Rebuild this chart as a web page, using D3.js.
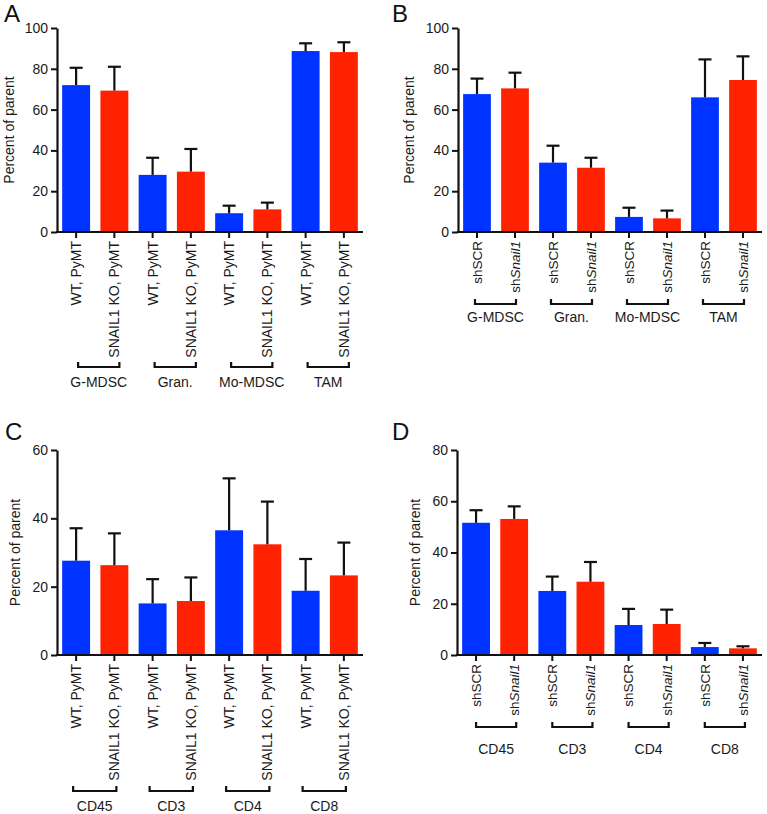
<!DOCTYPE html>
<html>
<head>
<meta charset="utf-8">
<script src="https://cdn.jsdelivr.net/npm/d3@7"></script>
<style>
  html, body { margin: 0; padding: 0; background: #fff; }
  svg { display: block; font-family: "Liberation Sans", Arial, Helvetica, sans-serif; }
</style>
</head>
<body>
<svg id="chart" width="767" height="814"></svg>
<script>
// ---------- data ----------
const groupsAB = ["G-MDSC", "Gran.", "Mo-MDSC", "TAM"];
const groupsCD = ["CD45", "CD3", "CD4", "CD8"];
const condKO = ["WT, PyMT", "SNAIL1 KO, PyMT"];
const condSh = ["shSCR", "shSnail1"];

const meanA = [72.0, 69.3, 28.0, 29.6, 9.2, 11.1, 88.7, 88.2];
const errA  = [8.5, 11.7, 8.4, 11.1, 3.7, 3.3, 3.8, 4.8];
const meanB = [67.6, 70.4, 34.0, 31.5, 7.4, 6.7, 66.0, 74.5];
const errB  = [7.6, 7.7, 8.3, 4.9, 4.5, 3.8, 18.6, 11.6];
const meanC = [27.6, 26.3, 15.1, 15.8, 36.5, 32.4, 18.8, 23.3];
const errC  = [9.5, 9.3, 7.1, 6.9, 15.2, 12.5, 9.3, 9.6];
const meanD = [51.6, 53.1, 25.0, 28.6, 11.7, 12.1, 3.1, 2.6];
const errD  = [4.9, 4.9, 5.6, 7.7, 6.3, 5.6, 1.6, 0.8];

const ticksAB = [0, 20, 40, 60, 80, 100];
const ticksC = [0, 20, 40, 60];
const ticksD = [0, 20, 40, 60, 80];

const yLabel = "Percent of parent";
const colors = ["#0033ff", "#ff2200"];

// ---------- drawing ----------
const svg = d3.select("#chart");
const TXT = "#1a1a1a";
const FF = "'Liberation Sans', Arial, Helvetica, sans-serif";

function drawPanel(p) {
  const g = svg.append("g");
  const ids = [];
  p.groups.forEach((gr, gi) => p.conds.forEach((c, ci) => ids.push(gi + "_" + ci)));

  const x = d3.scaleBand().domain(ids).range([p.x0, p.x1]).paddingInner(0.27).paddingOuter(0.135);
  const y = d3.scaleLinear().domain([0, p.ticks[p.ticks.length - 1]]).range([p.yb, p.yt]);

  const rows = ids.map((id, i) => ({ id, mean: p.mean[i], err: p.err[i], ci: i % 2 }));

  // bars
  g.selectAll("rect.bar").data(rows).join("rect")
    .attr("class", "bar")
    .attr("x", d => x(d.id)).attr("width", x.bandwidth())
    .attr("y", d => y(d.mean)).attr("height", d => y(0) - y(d.mean))
    .attr("fill", d => colors[d.ci]);

  // error bars (upper only)
  const capW = 13;
  const eb = g.selectAll("g.err").data(rows).join("g").attr("class", "err")
    .attr("stroke", "#111").attr("stroke-width", 2.2);
  eb.append("line")
    .attr("x1", d => x(d.id) + x.bandwidth() / 2).attr("x2", d => x(d.id) + x.bandwidth() / 2)
    .attr("y1", d => y(d.mean)).attr("y2", d => y(d.mean + d.err));
  eb.append("line")
    .attr("x1", d => x(d.id) + x.bandwidth() / 2 - capW / 2).attr("x2", d => x(d.id) + x.bandwidth() / 2 + capW / 2)
    .attr("y1", d => y(d.mean + d.err)).attr("y2", d => y(d.mean + d.err));

  // y axis
  const ya = g.append("g").attr("transform", `translate(${p.x0},0)`)
    .call(d3.axisLeft(y).tickValues(p.ticks).tickSize(6).tickSizeOuter(0).tickPadding(3));
  ya.select(".domain").attr("stroke", "#111").attr("stroke-width", 2.2);
  ya.selectAll(".tick line").attr("stroke", "#111").attr("stroke-width", 2);
  ya.selectAll(".tick text").attr("font-size", 14).attr("fill", TXT).style("font-family", FF);

  // x axis
  const xa = g.append("g").attr("transform", `translate(0,${p.yb})`)
    .call(d3.axisBottom(x).tickSize(6).tickSizeOuter(0).tickFormat(""));
  xa.select(".domain").attr("stroke", "#111").attr("stroke-width", 2.2)
    .attr("d", `M${p.x0 - 1},0H${p.x1}`);
  xa.selectAll(".tick line").attr("stroke", "#111").attr("stroke-width", 2);
  xa.selectAll(".tick text").remove();
  xa.selectAll(".tick").each(function (id, i) {
    const t = d3.select(this).append("text")
      .attr("transform", "rotate(-90)")
      .attr("x", -9).attr("y", 0).attr("dy", "0.36em")
      .attr("text-anchor", "end")
      .attr("font-size", p.xfs).attr("fill", TXT)
      .style("font-family", FF);
    const label = p.conds[i % 2];
    if (label === "shSnail1") {
      t.append("tspan").text("sh");
      t.append("tspan").attr("font-style", "italic").text("Snail1");
    } else {
      t.text(label);
    }
  });

  // brackets + group labels
  p.groups.forEach((gr, gi) => {
    const c1 = x(gi + "_0") + x.bandwidth() / 2 + p.bOff[0];
    const c2 = x(gi + "_1") + x.bandwidth() / 2 + p.bOff[1];
    g.append("path")
      .attr("d", `M${c1},${p.by - 5}V${p.by}H${c2}V${p.by - 5}`)
      .attr("fill", "none").attr("stroke", "#111").attr("stroke-width", 2.2);
    g.append("text")
      .attr("x", (c1 + c2) / 2).attr("y", p.gy)
      .attr("text-anchor", "middle").attr("font-size", 14).attr("fill", TXT)
      .text(gr);
  });

  // y label
  g.append("text")
    .attr("transform", `translate(${p.ylx},${(p.yt + p.yb) / 2}) rotate(-90)`)
    .attr("text-anchor", "middle").attr("font-size", 14).attr("fill", TXT)
    .text(yLabel);

  // panel letter
  g.append("text").attr("x", p.lx).attr("y", p.ly)
    .attr("font-size", 24).attr("fill", "#111").text(p.letter);
}

drawPanel({ letter: "A", lx: 4, ly: 22, groups: groupsAB, conds: condKO, mean: meanA, err: errA,
  ticks: ticksAB, x0: 57, x1: 363, yt: 28, yb: 232, by: 367, gy: 387, bOff: [2, 5], ylx: 14, xfs: 14 });
drawPanel({ letter: "B", lx: 392, ly: 22, groups: groupsAB, conds: condSh, mean: meanB, err: errB,
  ticks: ticksAB, x0: 458, x1: 762, yt: 28, yb: 232, by: 304, gy: 322, bOff: [-2, 1], ylx: 414, xfs: 13.5 });
drawPanel({ letter: "C", lx: 5, ly: 440, groups: groupsCD, conds: condKO, mean: meanC, err: errC,
  ticks: ticksC, x0: 57, x1: 363, yt: 450, yb: 655, by: 791, gy: 811, bOff: [-3, 2], ylx: 20, xfs: 14 });
drawPanel({ letter: "D", lx: 392, ly: 440, groups: groupsCD, conds: condSh, mean: meanD, err: errD,
  ticks: ticksD, x0: 457, x1: 762, yt: 450, yb: 655, by: 727, gy: 754, bOff: [0, 2], ylx: 420, xfs: 13.5 });
</script>
</body>
</html>
